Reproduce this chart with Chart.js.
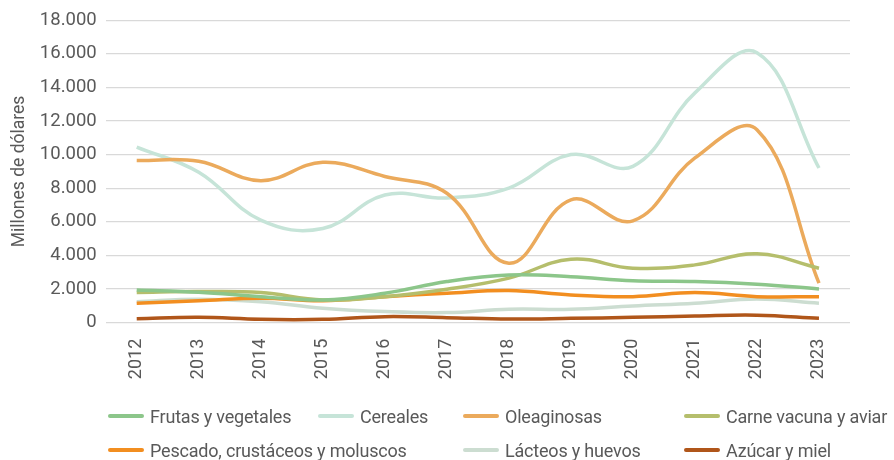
<!DOCTYPE html>
<html lang="es">
<head>
<meta charset="utf-8">
<title>Exportaciones por complejo</title>
<script src="https://cdn.jsdelivr.net/npm/chart.js@4.4.1/dist/chart.umd.min.js"></script>
<style>
  html, body { margin: 0; padding: 0; background: #ffffff; }
  #contenedor { position: relative; width: 894px; height: 460px; }
  #grafico { position: absolute; left: 0; top: 0; }
  #leyenda { position: absolute; left: 0; top: 0; width: 894px; height: 460px; pointer-events: none;
             font-family: Roboto, "Liberation Sans", sans-serif; font-size: 18px; letter-spacing: -0.2px; color: #595959; }
  .item { position: absolute; display: flex; align-items: center; white-space: nowrap; }
  .linea { width: 36px; height: 4px; border-radius: 2px; margin-right: 6px; }
</style>
</head>
<body>
<div id="contenedor">
  <canvas id="grafico" width="894" height="460"></canvas>
  <div id="leyenda"></div>
</div>
<script>
// Datos (millones de dólares)
const anios = ['2012', '2013', '2014', '2015', '2016', '2017', '2018', '2019', '2020', '2021', '2022', '2023'];
const frutas = [1950, 1810, 1550, 1350, 1750, 2450, 2840, 2740, 2490, 2450, 2290, 2010];
const cereales = [10450, 8950, 6100, 5600, 7600, 7420, 8010, 10000, 9300, 13670, 16060, 9200];
const oleaginosas = [9650, 9600, 8450, 9540, 8700, 7700, 3540, 7310, 6060, 9800, 11480, 2350];
const carne = [1800, 1850, 1790, 1350, 1550, 1990, 2650, 3780, 3240, 3440, 4100, 3240];
const pescado = [1160, 1300, 1460, 1310, 1550, 1750, 1910, 1650, 1550, 1790, 1550, 1550];
const lacteos = [1250, 1400, 1250, 860, 660, 600, 800, 800, 1000, 1160, 1410, 1160];
const azucar = [240, 320, 200, 200, 360, 300, 220, 260, 320, 400, 450, 260];

const nombres = ['Frutas y vegetales', 'Cereales', 'Oleaginosas', 'Carne vacuna y aviar',
                 'Pescado, crustáceos y moluscos', 'Lácteos y huevos', 'Azúcar y miel'];
const colores = ['#8cc68a', '#c6e4d8', '#ebaa5c', '#b5be6c', '#f28e20', '#ccddd1', '#b0561a'];
const series = [frutas, cereales, oleaginosas, carne, pescado, lacteos, azucar];

// Orden de dibujo: las series de abajo primero
const ordenDibujo = [1, 2, 5, 6, 4, 3, 0];

// Posiciones de la leyenda (columna x, fila y)
const posLeyenda = [[108, 416], [318, 416], [463, 416], [684, 416], [108, 450], [463, 450], [684, 450]];

const colorTexto = '#595959';
const fuente = 'Roboto, "Liberation Sans", sans-serif';

function formatoMiles(v) {
    return String(v).replace(/\B(?=(\d{3})+(?!\d))/g, '.');
}

document.addEventListener('DOMContentLoaded', function () {
    const datasets = series.map(function (datos, i) {
        return {
            label: nombres[i],
            data: datos,
            borderColor: colores[i],
            backgroundColor: colores[i],
            borderWidth: 3.5,
            pointRadius: 0,
            tension: 0.4,
            fill: false,
            order: ordenDibujo.indexOf(i) * -1
        };
    });

    const ctx = document.getElementById('grafico').getContext('2d');
    new Chart(ctx, {
        type: 'line',
        data: { labels: anios, datasets: datasets },
        options: {
            responsive: false,
            animation: false,
            layout: { padding: { top: 20, right: 44, bottom: 0, left: 0 } },
            plugins: {
                legend: { display: false },
                tooltip: { enabled: false }
            },
            scales: {
                x: {
                    offset: true,
                    grid: { display: false },
                    border: { display: false },
                    ticks: {
                        color: colorTexto,
                        font: { family: fuente, size: 18 },
                        minRotation: 90,
                        maxRotation: 90,
                        padding: 8
                    },
                    afterFit: function (scale) { scale.height = 137.3; }
                },
                y: {
                    min: 0,
                    max: 18000,
                    grid: { color: '#d9d9d9', lineWidth: 1.2, drawTicks: false },
                    border: { display: false },
                    ticks: {
                        stepSize: 2000,
                        color: colorTexto,
                        font: { family: fuente, size: 18.5 },
                        padding: 9,
                        callback: function (v) { return formatoMiles(v); }
                    },
                    title: {
                        display: true,
                        text: 'Millones de dólares',
                        color: colorTexto,
                        font: { family: fuente, size: 17.5 },
                        padding: { top: 9, bottom: 0 }
                    },
                    afterFit: function (scale) { scale.width = 105.7; }
                }
            }
        }
    });

    // Leyenda en HTML, con el mismo orden que el original
    const leyenda = document.getElementById('leyenda');
    nombres.forEach(function (nombre, i) {
        const item = document.createElement('div');
        item.className = 'item';
        item.style.left = posLeyenda[i][0] + 'px';
        item.style.top = (posLeyenda[i][1] - 12) + 'px';
        item.style.height = '24px';
        const linea = document.createElement('span');
        linea.className = 'linea';
        linea.style.background = colores[i];
        const texto = document.createElement('span');
        texto.textContent = nombre;
        item.appendChild(linea);
        item.appendChild(texto);
        leyenda.appendChild(item);
    });
});
</script>
</body>
</html>
